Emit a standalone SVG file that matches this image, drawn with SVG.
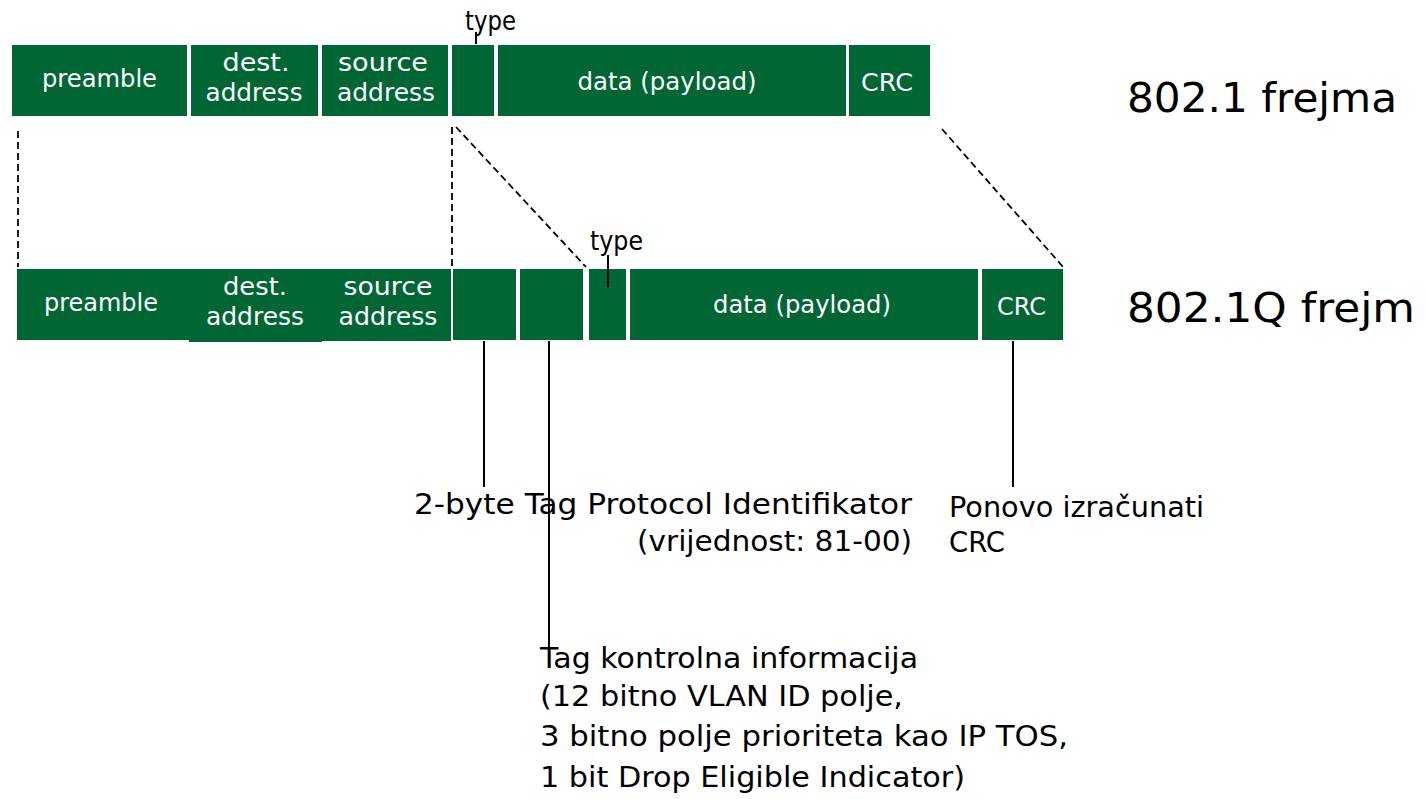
<svg xmlns="http://www.w3.org/2000/svg" width="1426" height="799" viewBox="0 0 1426 799">
<style>
.box { fill: #006633; }
.bl { fill: #ffffff; font-family: "DejaVu Sans", "Liberation Sans", sans-serif; font-size: 25px; text-anchor: middle; }
.tl { fill: #000000; font-family: "DejaVu Sans", "Liberation Sans", sans-serif; font-size: 27px; text-anchor: middle; }
.ann { fill: #000000; font-family: "DejaVu Sans", "Liberation Sans", sans-serif; font-size: 29px; }
.big { fill: #000000; font-family: "DejaVu Sans", "Liberation Sans", sans-serif; font-size: 40px; }
.dash { stroke: #000000; stroke-width: 1.8; stroke-dasharray: 7 4; fill: none; }
.solid { stroke: #000000; stroke-width: 2; fill: none; }
</style>
<rect x="0" y="0" width="1426" height="799" fill="#ffffff"/>

<g id="connectors">
  <line class="dash" x1="18" y1="131" x2="18" y2="267"/>
  <line class="dash" x1="452" y1="127" x2="452" y2="266"/>
  <line class="dash" x1="456" y1="127" x2="586" y2="267"/>
  <line class="dash" x1="942" y1="129" x2="1064" y2="268"/>
  <line class="solid" x1="484" y1="341" x2="484" y2="487"/>
  <line class="solid" x1="549" y1="341" x2="549" y2="649"/>
  <line class="solid" x1="1013" y1="341" x2="1013" y2="487"/>
</g>

<!-- 802.1 frame -->
<g id="f1-preamble"><rect class="box" x="12" y="45" width="175" height="71"/><text class="bl" x="99.5" y="87" textLength="115" lengthAdjust="spacingAndGlyphs">preamble</text></g>
<g id="f1-dest"><rect class="box" x="191" y="45" width="127" height="71"/><text class="bl" x="256" y="71" textLength="67" lengthAdjust="spacingAndGlyphs">dest.</text><text class="bl" x="254" y="101" textLength="97" lengthAdjust="spacingAndGlyphs">address</text></g>
<g id="f1-source"><rect class="box" x="322" y="45" width="126" height="71"/><text class="bl" x="383" y="71" textLength="90" lengthAdjust="spacingAndGlyphs">source</text><text class="bl" x="386" y="101" textLength="98" lengthAdjust="spacingAndGlyphs">address</text></g>
<g id="f1-type"><rect class="box" x="452" y="45" width="42" height="71"/><text class="tl" x="490.5" y="30" textLength="51" lengthAdjust="spacingAndGlyphs">type</text><line class="solid" x1="476" y1="32" x2="476" y2="44"/></g>
<g id="f1-data"><rect class="box" x="498" y="45" width="348" height="71"/><text class="bl" x="667" y="90" textLength="179" lengthAdjust="spacingAndGlyphs">data (payload)</text></g>
<g id="f1-crc"><rect class="box" x="849" y="45" width="81" height="71"/><text class="bl" x="887" y="91" textLength="52" lengthAdjust="spacingAndGlyphs">CRC</text></g>
<g id="label-8021"><text class="big" x="1127" y="112" textLength="270" lengthAdjust="spacingAndGlyphs">802.1 frejma</text></g>

<!-- 802.1Q frame -->
<g id="f2-preamble"><rect class="box" x="17" y="269" width="172" height="71"/><text class="bl" x="101" y="311" textLength="114" lengthAdjust="spacingAndGlyphs">preamble</text></g>
<g id="f2-dest"><rect class="box" x="189" y="269" width="133" height="73"/><text class="bl" x="255" y="295" textLength="64" lengthAdjust="spacingAndGlyphs">dest.</text><text class="bl" x="255" y="325" textLength="98" lengthAdjust="spacingAndGlyphs">address</text></g>
<g id="f2-source"><rect class="box" x="322" y="269" width="129" height="72"/><text class="bl" x="388" y="295" textLength="89" lengthAdjust="spacingAndGlyphs">source</text><text class="bl" x="388" y="325" textLength="99" lengthAdjust="spacingAndGlyphs">address</text></g>
<g id="f2-tpid"><rect class="box" x="453" y="269" width="63" height="71"/></g>
<g id="f2-tci"><rect class="box" x="520" y="269" width="63" height="71"/></g>
<g id="f2-type"><rect class="box" x="589" y="269" width="37" height="71"/><text class="tl" x="616.5" y="250" textLength="53" lengthAdjust="spacingAndGlyphs">type</text><line class="solid" x1="608" y1="255" x2="608" y2="287"/></g>
<g id="f2-data"><rect class="box" x="630" y="269" width="348" height="71"/><text class="bl" x="802" y="313" textLength="178" lengthAdjust="spacingAndGlyphs">data (payload)</text></g>
<g id="f2-crc"><rect class="box" x="982" y="269" width="81" height="71"/><text class="bl" x="1021.5" y="315" textLength="49" lengthAdjust="spacingAndGlyphs">CRC</text></g>
<g id="label-8021q"><text class="big" x="1127" y="322" textLength="288" lengthAdjust="spacingAndGlyphs">802.1Q frejm</text></g>

<!-- annotations -->
<g id="note-tpid">
  <text class="ann" x="414" y="514" textLength="498" lengthAdjust="spacingAndGlyphs">2-byte Tag Protocol Identifikator</text>
  <text class="ann" x="637" y="551" textLength="275" lengthAdjust="spacingAndGlyphs">(vrijednost: 81-00)</text>
</g>
<g id="note-crc">
  <text class="ann" x="949" y="517" textLength="255" lengthAdjust="spacingAndGlyphs">Ponovo izračunati</text>
  <text class="ann" x="949" y="552" textLength="56" lengthAdjust="spacingAndGlyphs">CRC</text>
</g>
<g id="note-tci">
  <text class="ann" x="540" y="668" textLength="378" lengthAdjust="spacingAndGlyphs">Tag kontrolna informacija</text>
  <text class="ann" x="540" y="706" textLength="363" lengthAdjust="spacingAndGlyphs">(12 bitno VLAN ID polje,</text>
  <text class="ann" x="540" y="746" textLength="528" lengthAdjust="spacingAndGlyphs">3 bitno polje prioriteta kao IP TOS,</text>
  <text class="ann" x="540" y="787" textLength="425" lengthAdjust="spacingAndGlyphs">1 bit Drop Eligible Indicator)</text>
</g>
</svg>
